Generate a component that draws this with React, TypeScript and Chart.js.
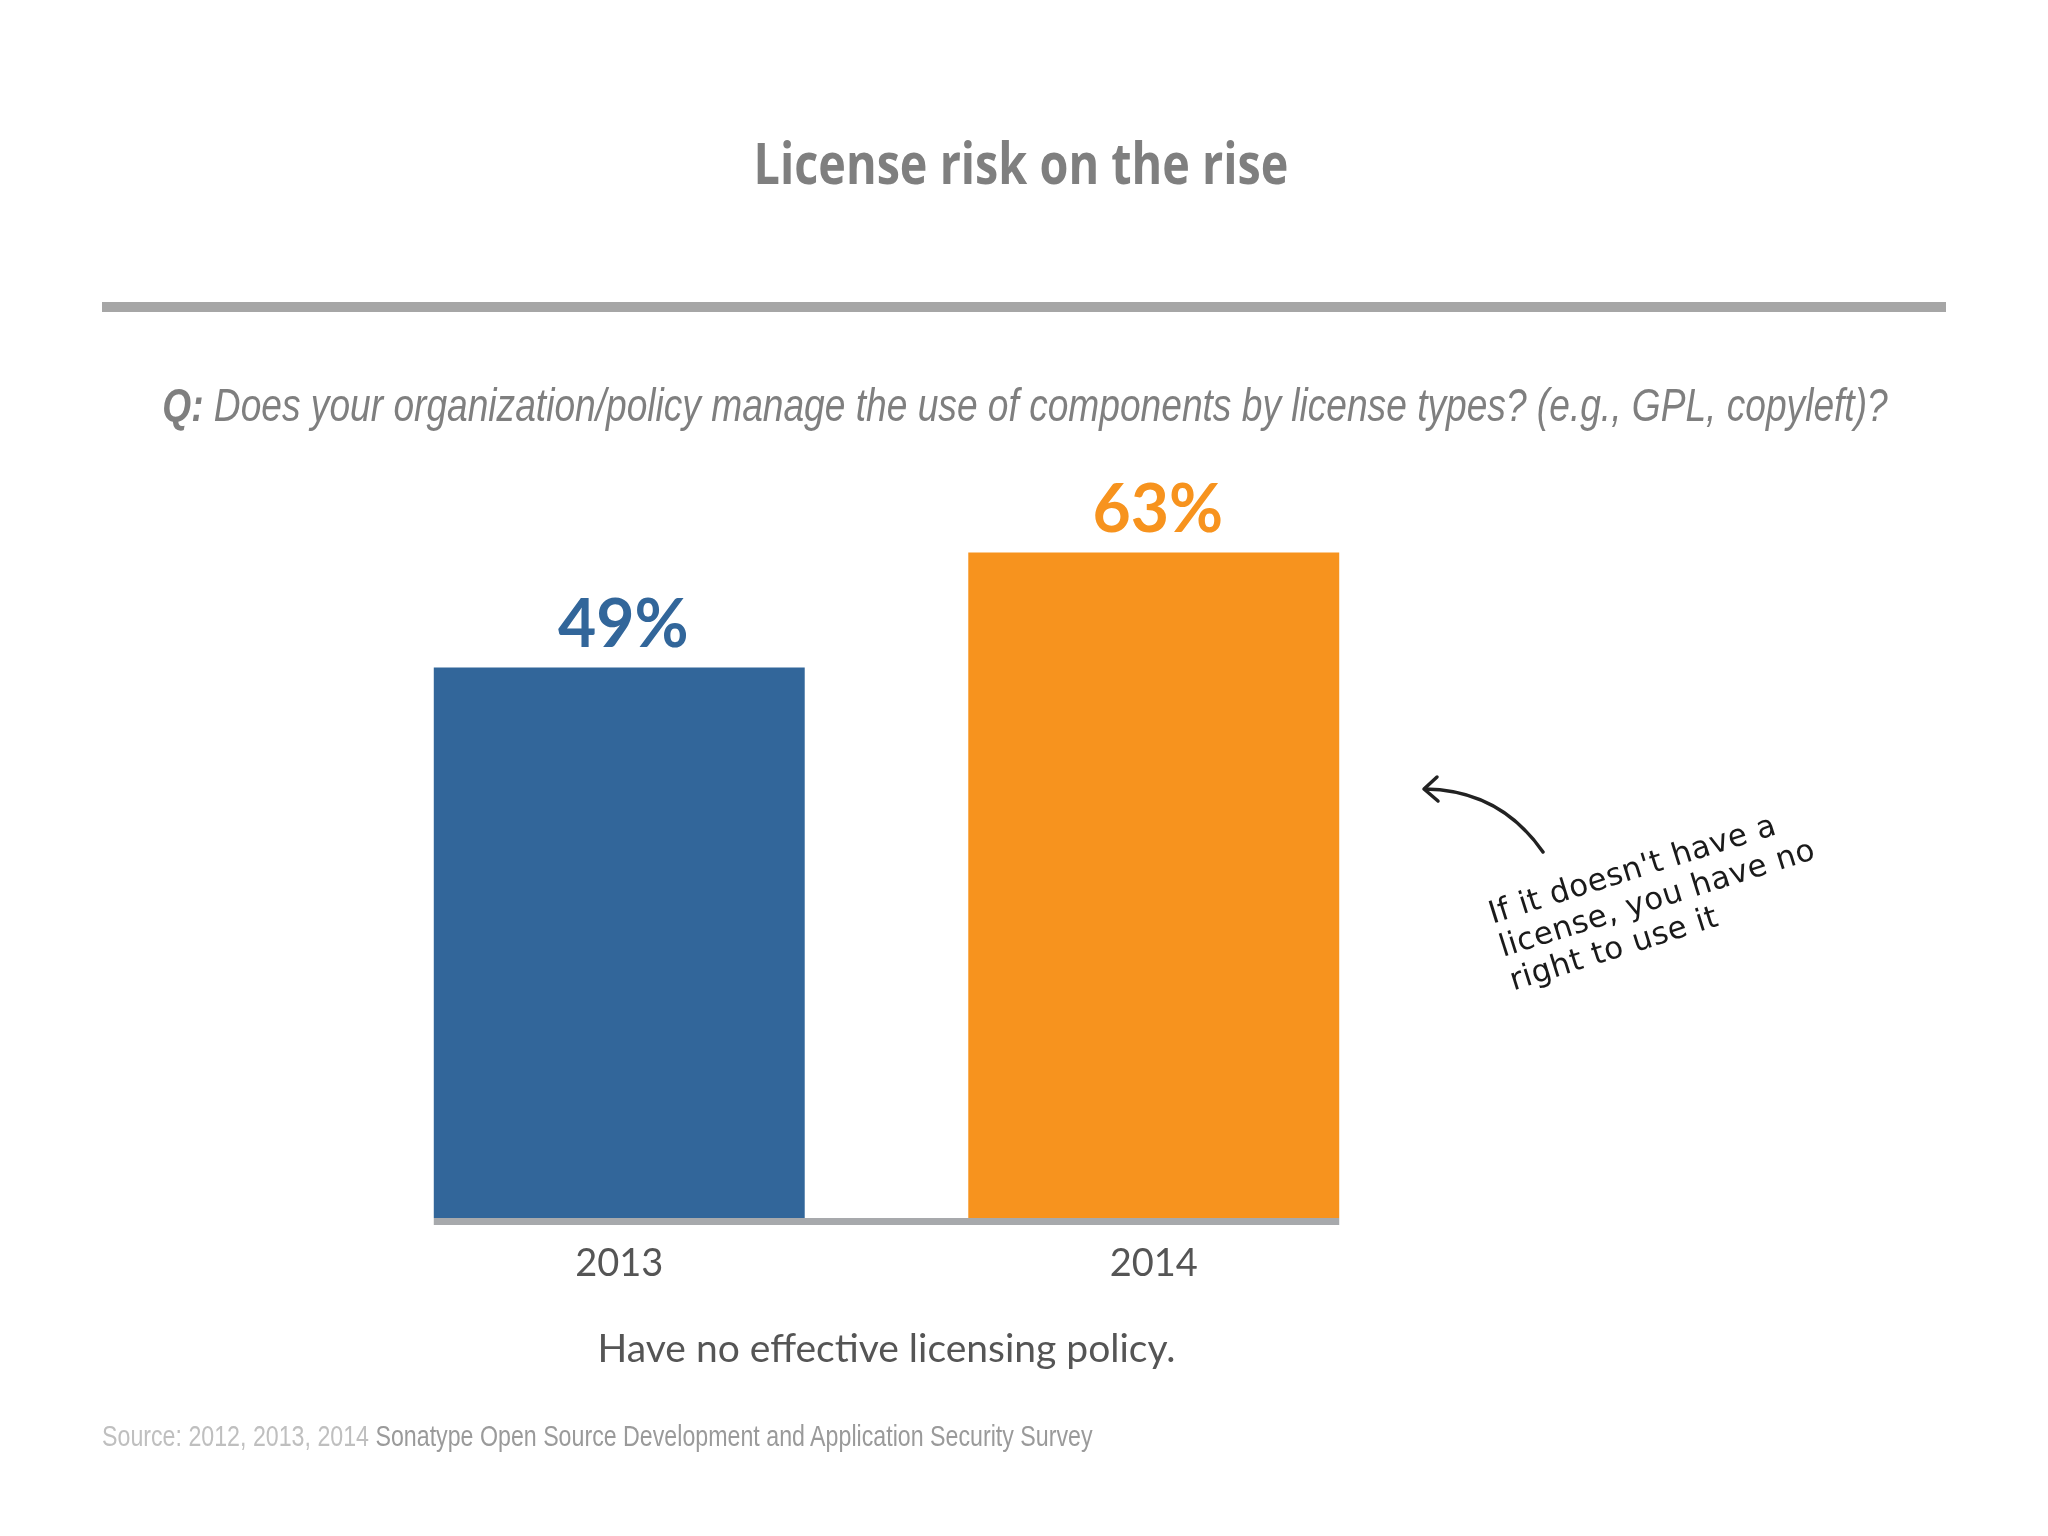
import React, { useEffect, useRef } from "react";
import { Chart, registerables } from "chart.js";

Chart.register(...registerables);

// ---- data ----
const categories = ["2013", "2014"];
const values = [49, 63];
const barColors = ["#32669A", "#F7931E"];
const axisTitle = "Have no effective licensing policy.";
const chartTitle = "License risk on the rise";
const questionLead = "Q:";
const questionText =
  " Does your organization/policy manage the use of components by license types? (e.g., GPL, copyleft)?";
const sourceLead = "Source: 2012, 2013, 2014 ";
const sourceText = "Sonatype Open Source Development and Application Security Survey";
const noteLines = ["If it doesn't have a", "license, you have no", "right to use it"];
const baseValue = -18;
const yMax = 75;

const barDecor = {
  id: "barDecor",
  afterDatasetsDraw(chart: any) {
    const ctx = chart.ctx;
    const meta = chart.getDatasetMeta(0);
    const basePx = chart.scales.y.getPixelForValue(baseValue);
    const first = meta.data[0];
    const last = meta.data[meta.data.length - 1];
    const x0 = first.x - first.width / 2;
    const x1 = last.x + last.width / 2;
    ctx.save();
    ctx.fillStyle = "#A7A9AC";
    ctx.fillRect(x0, basePx, x1 - x0, 7);
    ctx.font = "bold 66px Lato";
    ctx.textAlign = "center";
    ctx.textBaseline = "alphabetic";
    meta.data.forEach((bar: any, i: number) => {
      ctx.fillStyle = barColors[i];
      ctx.fillText(`${values[i]}%`, bar.x + 4, bar.y - 21);
    });
    ctx.restore();
  },
};

export default function App() {
  const ref = useRef<HTMLCanvasElement | null>(null);

  useEffect(() => {
    if (!ref.current) return;
    const chart = new Chart(ref.current, {
      type: "bar",
      data: {
        labels: categories,
        datasets: [
          {
            data: values,
            backgroundColor: barColors,
            base: baseValue,
            barPercentage: 0.694,
            categoryPercentage: 1,
            borderWidth: 0,
          } as any,
        ],
      },
      options: {
        responsive: false,
        animation: false,
        devicePixelRatio: 1,
        layout: { padding: { left: 352, right: 627, top: 454, bottom: 156 } },
        plugins: { legend: { display: false }, tooltip: { enabled: false } },
        scales: {
          x: {
            grid: { display: false, drawTicks: false },
            border: { display: false },
            ticks: { color: "#555555", font: { family: "Lato", size: 38 }, padding: 23 },
            title: {
              display: true,
              text: axisTitle,
              color: "#555555",
              font: { family: "Lato", size: 39 },
              padding: { top: 0, bottom: 7 },
            },
            afterFit: (s: any) => {
              s.height = 162;
            },
          },
          y: { display: false, min: baseValue, max: yMax },
        },
      },
      plugins: [barDecor],
    });
    return () => chart.destroy();
  }, []);

  return (
    <div
      style={{
        position: "absolute",
        left: 0,
        top: 0,
        width: 2048,
        height: 1536,
        background: "#ffffff",
        overflow: "hidden",
      }}
    >
      <canvas
        ref={ref}
        width={2048}
        height={1536}
        style={{ position: "absolute", left: 0, top: 0, display: "block" }}
      />
      <div
        style={{
          position: "absolute",
          left: 0,
          top: 134,
          width: 2042,
          textAlign: "center",
          fontFamily: "'Open Sans', sans-serif",
          fontWeight: 700,
          fontSize: 57,
          lineHeight: "57px",
          color: "#7F7F7F",
          transform: "scaleX(0.82)",
          transformOrigin: "1021px 0",
          whiteSpace: "nowrap",
        }}
      >
        {chartTitle}
      </div>
      <div
        style={{
          position: "absolute",
          left: 102,
          top: 302,
          width: 1844,
          height: 10,
          background: "#A6A6A6",
        }}
      />
      <div
        style={{
          position: "absolute",
          left: -500,
          top: 381,
          width: 3050,
          textAlign: "center",
          fontFamily: "'Liberation Sans', Arial, sans-serif",
          fontStyle: "italic",
          fontSize: 47,
          lineHeight: "47px",
          color: "#7F7F7F",
          whiteSpace: "nowrap",
          transform: "scaleX(0.79)",
          transformOrigin: "1525px 0",
        }}
      >
        <span style={{ fontWeight: 700 }}>{questionLead}</span>
        <span>{questionText}</span>
      </div>
      <div
        style={{
          position: "absolute",
          left: 102,
          top: 1422,
          fontFamily: "'Liberation Sans', Arial, sans-serif",
          fontSize: 29,
          lineHeight: "29px",
          whiteSpace: "nowrap",
          transform: "scaleX(0.8)",
          transformOrigin: "0 0",
        }}
      >
        <span style={{ color: "#BFBFBF" }}>{sourceLead}</span>
        <span style={{ color: "#9A9A9A" }}>{sourceText}</span>
      </div>
      <svg
        width={2048}
        height={1536}
        style={{ position: "absolute", left: 0, top: 0, pointerEvents: "none" }}
      >
        <path d="M1543,852 Q1500,790 1425,789" fill="none" stroke="#222" strokeWidth={3.5} strokeLinecap="round" />
        <path d="M1437,777 L1424,789 L1438,801" fill="none" stroke="#222" strokeWidth={3.5} strokeLinecap="round" strokeLinejoin="round" />
      </svg>
      <div
        style={{
          position: "absolute",
          left: 1484,
          top: 897,
          transform: "rotate(-17.5deg)",
          transformOrigin: "0 0",
          fontFamily: "'DejaVu Sans', sans-serif",
          fontWeight: 400,
          fontSize: 31,
          letterSpacing: "0.5px",
          lineHeight: "35px",
          color: "#1A1A1A",
          whiteSpace: "nowrap",
        }}
      >
        {noteLines.map((l, i) => (
          <div key={i}>{l}</div>
        ))}
      </div>
    </div>
  );
}
